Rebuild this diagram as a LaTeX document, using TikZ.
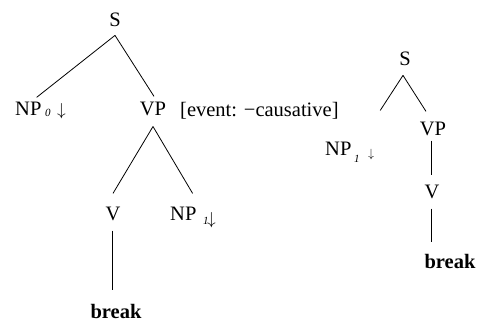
\documentclass[tikz,border=0pt]{standalone}
\usepackage{fontspec}
\setmainfont{Liberation Serif}
\usetikzlibrary{calc}
\begin{document}
\begin{tikzpicture}[x=1pt,y=-1pt,
  lab/.style={inner sep=0pt, anchor=base, font=\fontsize{20.5}{22}\selectfont},
  labw/.style={lab, anchor=base west},
  word/.style={lab, font=\fontsize{20.5}{22}\selectfont\bfseries},
  sub/.style={inner sep=0pt, anchor=base west, font=\fontsize{11}{13}\selectfont\itshape},
  arr/.style={inner sep=0pt, anchor=base west, font=\fontsize{19}{21}\selectfont},
  smallarr/.style={arr, font=\fontsize{12}{14}\selectfont},
  branch/.style={line width=0.8pt}]
\useasboundingbox (0,0) rectangle (477,324);

% elementary tree for transitive "break"
\node[lab]  (sL)    at (115,26)  {S};
\node[labw] (npL0)  at (15,115)  {NP};
\node[sub]  (subL0) at (45,116)  {0};
\node[arr]  (arrL0) at (57,115)  {$\downarrow$};
\node[lab]  (vpL)   at (153,115) {VP};
\node[labw] (ev)    at (180,116) {[event: −causative]};
\node[lab]  (vL)    at (113,220) {V};
\node[labw] (npL1)  at (170,220) {NP};
\node[sub]  (subL1) at (203,224) {1};
\node[arr]  (arrL1) at (207,224) {$\downarrow$};
\node[word] (brL)   at (116,318) {break};

\draw[branch] ($(sL.south)+(0,9)$) -- ($(npL0.north east)+(-5,-4)$);
\draw[branch] ($(sL.south)+(0,9)$) -- ($(vpL.north)+(1,-5)$);
\draw[branch] ($(vpL.south)+(0,11)$) -- ($(vL.north)+(0,-13)$);
\draw[branch] ($(vpL.south)+(0,11)$) -- ($(npL1.north east)+(-4,-13)$);
\draw[branch] ($(vL.south)+(-1,10)$) -- ($(brL.north)+(-4,-14)$);

% elementary tree for intransitive "break"
\node[lab]      (sR)   at (405,65)  {S};
\node[lab]      (vpR)  at (433,135) {VP};
\node[labw]     (npR)  at (325,155) {NP};
\node[sub]      (subR) at (354,162) {1};
\node[smallarr] (arrR) at (368,157) {$\downarrow$};
\node[lab]      (vR)   at (432,198) {V};
\node[word]     (brR)  at (450,268) {break};

\draw[branch] ($(sR.south)+(-2,10)$) -- ($(arrR.north)+(9,-38)$);
\draw[branch] ($(sR.south)+(-2,10)$) -- ($(vpR.north)+(-7,-10)$);
\draw[branch] ($(vpR.south)+(-2,5)$) -- ($(vR.north)+(-1,-9)$);
\draw[branch] ($(vR.south)+(-1,10)$) -- ($(brR.north)+(-19,-12)$);
\end{tikzpicture}
\end{document}
